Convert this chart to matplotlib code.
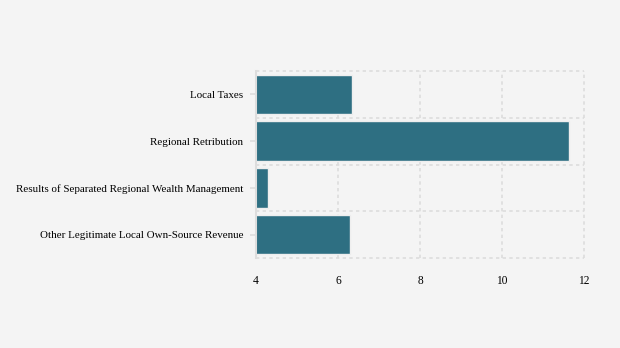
import numpy as np
import matplotlib.pyplot as plt

categories = ["Local Taxes", "Regional Retribution",
              "Results of Separated Regional Wealth Management",
              "Other Legitimate Local Own-Source Revenue"]
values = [6.34, 11.63, 4.29, 6.29]

plt.rcParams['font.family'] = ['Liberation Serif', 'DejaVu Serif']

fig = plt.figure(figsize=(6.2, 3.48), dpi=100, facecolor='#f4f4f4')
ax = fig.add_axes([256 / 620, 1 - 258 / 348, 328 / 620, 187 / 348])
ax.set_facecolor('#f4f4f4')

y = np.arange(len(categories))
ax.barh(y, values, height=0.85, color='#2e6f82', edgecolor='#eeeeee', linewidth=1, zorder=2)

ax.set_xlim(4, 12)
ax.set_ylim(len(categories) - 0.5, -0.5)
ax.set_xticks([4, 6, 8, 10, 12])
ax.set_yticks(y)
ax.set_yticklabels(categories)
ax.set_yticks(np.arange(-0.5, len(categories), 1), minor=True)

ax.grid(axis='x', which='major', linestyle=(0, (2, 2)), color='#dcdcdc', linewidth=1.2, zorder=0)
ax.grid(axis='y', which='minor', linestyle=(0, (2, 2)), color='#dcdcdc', linewidth=1.2, zorder=0)
ax.grid(axis='y', which='major', visible=False)
for line in ax.get_xgridlines():
    line.set_clip_on(False)
for tick in ax.yaxis.get_minor_ticks():
    tick.gridline.set_clip_on(False)

for side in ['top', 'right', 'bottom']:
    ax.spines[side].set_visible(False)
ax.spines['left'].set_color('#dddddd')
ax.spines['left'].set_linewidth(1.5)

ax.tick_params(axis='y', which='major', length=4, width=1.2, color='#dddddd', labelsize=7.9, pad=5)
ax.tick_params(axis='y', which='minor', length=0)
ax.tick_params(axis='x', length=0, labelsize=8.3, pad=12)

fig.savefig('out.png', dpi=100, facecolor=fig.get_facecolor())
